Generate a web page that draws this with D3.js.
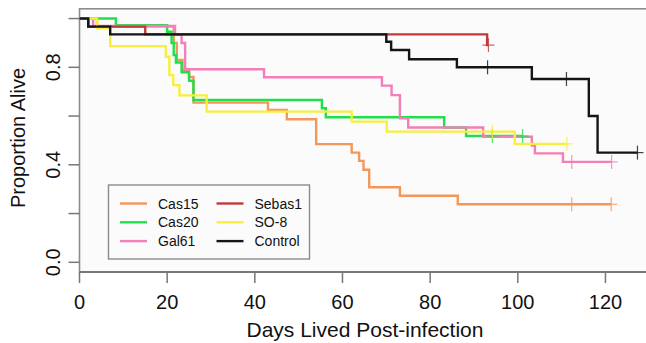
<!DOCTYPE html>
<html>
<head>
<meta charset="utf-8">
<script src="https://cdn.jsdelivr.net/npm/d3@7"></script>
<style>
  body { margin: 0; background: #fff; }
  svg text { font-family: "Liberation Sans", Arial, sans-serif; fill: #111; }
</style>
</head>
<body>
<svg id="chart" width="646" height="343"></svg>
<script>
// 各组名称和颜色（图例顺序）
const groups = ["Cas15", "Cas20", "Gal61", "Sebas1", "SO-8", "Control"];
const colors = ["#f4975a", "#1fe04a", "#f27fb8", "#bf3b3b", "#f7ee3e", "#151515"];

// 生存曲线：每组的阶跃时间(天)和对应的存活比例
const cas15Days = [0, 4, 21.5, 22.2, 23.5, 25, 26, 43, 47.3, 54, 62.1, 63.8, 64.8, 66.1, 73.1, 86.3, 121.3];
const cas15Surv = [1, 0.967, 0.90, 0.83, 0.79, 0.76, 0.655, 0.625, 0.587, 0.485, 0.45, 0.416, 0.38, 0.308, 0.273, 0.238, 0.238];
const cas15Cens = [112.3, 121.3];

const cas20Days = [0, 8.3, 20, 21, 21.5, 22, 23.3, 25, 26, 55.3, 56.2, 83.2, 88.2, 101.1];
const cas20Surv = [1, 0.973, 0.946, 0.90, 0.85, 0.82, 0.78, 0.745, 0.666, 0.632, 0.595, 0.553, 0.518, 0.518];
const cas20Cens = [94.2, 101.1];

const gal61Days = [0, 3.1, 21.8, 23.3, 24.1, 42.1, 69, 71.2, 73.1, 75, 92.1, 103.2, 103.9, 110.3, 121.4];
const gal61Surv = [1, 0.97, 0.933, 0.90, 0.792, 0.759, 0.725, 0.686, 0.591, 0.553, 0.515, 0.479, 0.447, 0.412, 0.412];
const gal61Cens = [112.3, 121.4];

const sebas1Days = [0, 2, 15, 93, 93.3];
const sebas1Surv = [1, 0.967, 0.935, 0.891, 0.891];
const sebas1Cens = [93.3];

const so8Days = [0, 4, 7, 19.7, 20.5, 21.4, 22.8, 29, 62.1, 70.1, 99.3, 111.2];
const so8Surv = [1, 0.96, 0.887, 0.843, 0.768, 0.727, 0.685, 0.618, 0.577, 0.536, 0.486, 0.486];
const so8Cens = [94.2, 111.2];

const controlDays = [0, 2, 7, 70, 71.1, 75.2, 86.1, 103.2, 116.2, 118.2, 127.3];
const controlSurv = [1, 0.967, 0.935, 0.905, 0.871, 0.833, 0.80, 0.752, 0.60, 0.45, 0.45];
const controlCens = [93.1, 111.1, 127.3];

// 坐标轴刻度
const xTicks = [0, 20, 40, 60, 80, 100, 120];
const yTicks = [0, 0.2, 0.4, 0.6, 0.8, 1.0];
const yTickLabels = ["0.0", "", "0.4", "", "0.8", ""];

const series = [
  {days: cas15Days, surv: cas15Surv, cens: cas15Cens},
  {days: cas20Days, surv: cas20Surv, cens: cas20Cens},
  {days: gal61Days, surv: gal61Surv, cens: gal61Cens},
  {days: sebas1Days, surv: sebas1Surv, cens: sebas1Cens},
  {days: so8Days, surv: so8Surv, cens: so8Cens},
  {days: controlDays, surv: controlSurv, cens: controlCens}
].map((s, i) => ({
  name: groups[i], color: colors[i],
  pts: s.days.map((d, j) => [d, s.surv[j]]),
  cens: s.cens
}));

// 画布与比例尺
const svg = d3.select("#chart");
const x = d3.scaleLinear().domain([0, 130]).range([79.5, 649.3]);
const y = d3.scaleLinear().domain([0, 1]).range([262.3, 18.55]);

// 绘图区背景和边框（y方向留4%）
svg.append("rect")
  .attr("x", x(0)).attr("y", y(1.04))
  .attr("width", x(130) - x(0)).attr("height", y(-0.04) - y(1.04))
  .attr("fill", "#fbfbfb")
  .attr("stroke", "#8c8c8c").attr("stroke-width", 1.6);

// x轴
const xAxis = svg.append("g").attr("transform", `translate(0,${y(-0.04)})`);
xAxis.append("line").attr("x1", x(0)).attr("x2", x(130)).attr("stroke", "#777").attr("stroke-width", 2);
xAxis.selectAll(".xt").data(xTicks).enter().append("line")
  .attr("x1", d => x(d)).attr("x2", d => x(d)).attr("y1", 0).attr("y2", 11)
  .attr("stroke", "#777").attr("stroke-width", 1.5);
xAxis.selectAll("text").data(xTicks).enter().append("text")
  .attr("x", d => x(d)).attr("y", 37)
  .attr("text-anchor", "middle").attr("font-size", 20)
  .text(d => d);

// y轴
const yAxis = svg.append("g").attr("transform", `translate(${x(0)},0)`);
yAxis.selectAll("line").data(yTicks).enter().append("line")
  .attr("x1", -11).attr("x2", 0).attr("y1", d => y(d)).attr("y2", d => y(d))
  .attr("stroke", "#777").attr("stroke-width", 1.5);
yAxis.selectAll("text").data(yTicks).enter().append("text")
  .attr("transform", d => `translate(-20,${y(d)}) rotate(-90)`)
  .attr("text-anchor", "middle").attr("font-size", 20)
  .text((d, i) => yTickLabels[i]);

// 坐标轴标题
svg.append("text")
  .attr("x", 365).attr("y", 337)
  .attr("text-anchor", "middle").attr("font-size", 21)
  .text("Days Lived Post-infection");
svg.append("text")
  .attr("transform", "translate(25,138) rotate(-90)")
  .attr("text-anchor", "middle").attr("font-size", 20)
  .text("Proportion Alive");

// 生存曲线
const line = d3.line()
  .x(d => x(d[0])).y(d => y(d[1]))
  .curve(d3.curveStepAfter);

const curves = svg.append("g");
curves.selectAll("path").data(series).enter().append("path")
  .attr("d", d => line(d.pts))
  .attr("fill", "none")
  .attr("stroke", d => d.color)
  .attr("stroke-width", 2.4);

// 删失标记 "+"
function survAt(s, t){
  var v = 1;
  s.pts.forEach(p => { if(p[0] <= t) v = p[1]; });
  return v;
}
series.forEach(s => {
  const g = svg.append("g").attr("stroke", s.color).attr("stroke-width", 1.2).attr("opacity", 0.8);
  s.cens.forEach(t => {
    const cx = x(t), cy = y(survAt(s, t));
    g.append("line").attr("x1", cx - 6).attr("x2", cx + 6).attr("y1", cy).attr("y2", cy);
    g.append("line").attr("x1", cx).attr("x2", cx).attr("y1", cy - 7).attr("y2", cy + 7);
  });
});

// 图例
const legend = svg.append("g");
legend.append("rect")
  .attr("x", 108.5).attr("y", 185).attr("width", 201).attr("height", 74)
  .attr("fill", "#fbfbfb").attr("stroke", "#8a8a8a").attr("stroke-width", 1.4);
const items = legend.selectAll("g.item").data(series).enter().append("g")
  .attr("class", "item")
  .attr("transform", (d, i) => `translate(${i < 3 ? 120 : 216.5},${203.5 + (i % 3) * 18.8})`);
items.append("line")
  .attr("x1", 0).attr("x2", 27).attr("stroke", d => d.color).attr("stroke-width", 2.4);
items.append("text")
  .attr("x", 38).attr("y", 5).attr("font-size", 14)
  .text(d => d.name);
</script>
</body>
</html>
